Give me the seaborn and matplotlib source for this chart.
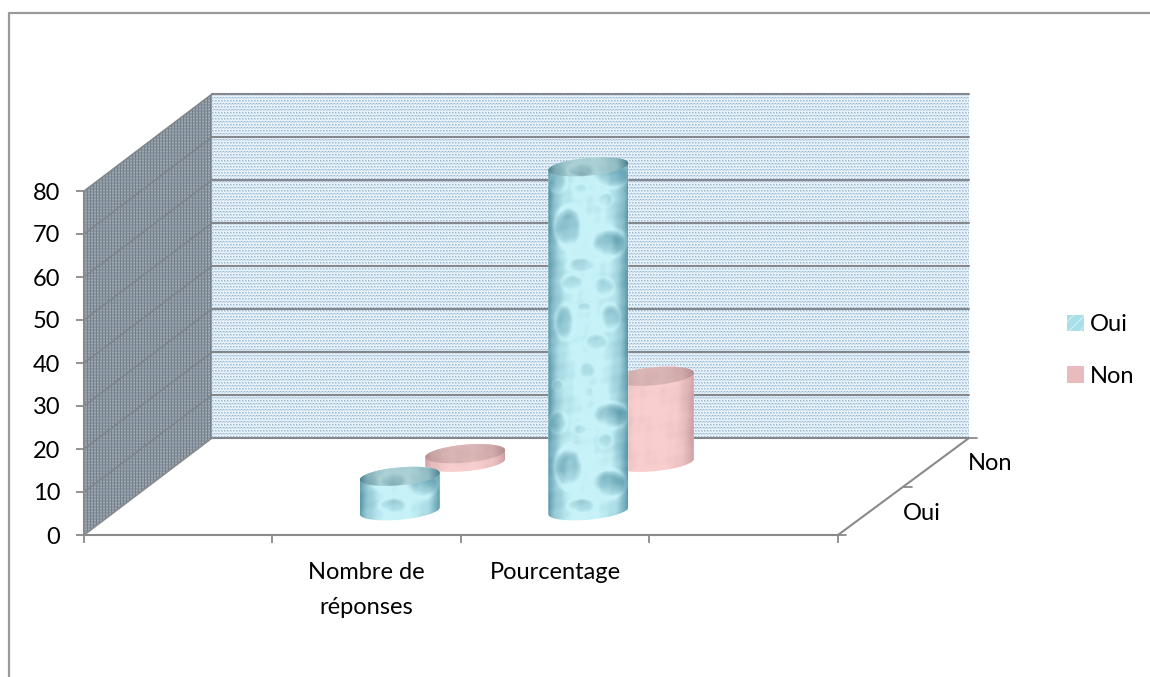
import numpy as np
import pandas as pd
import matplotlib
matplotlib.use("Agg")
import matplotlib.pyplot as plt
from matplotlib.patches import Patch, Polygon, PathPatch
from matplotlib.path import Path
import seaborn as sns

# valeurs
categories = ["Nombre de\nréponses", "Pourcentage"]
oui_values = [8, 80]
non_values = [2, 20]
y_ticks = [0, 10, 20, 30, 40, 50, 60, 70, 80]
depth_labels = ["Oui", "Non"]

W, H = 1150, 677
GRAY = "#8a8a8a"
FS = 17

# geometrie du faux 3D, en pixels
FRONT_L, FRONT_R, FRONT_BOTTOM = 84, 838, 535
PX_PER_UNIT = 4.3
DEPTH_X, DEPTH_Y = 128, -97
X_LIM = (-1.5, 2.5)
Y_LIM = (-6, 86)
TILE_PX = 240

sns.set_theme(style="white")
plt.rcParams["font.family"] = ["Lato", "DejaVu Sans"]


def make_axes(fig, shift_x=0, shift_y=0, y_lim=(0, 80)):
    # axe place en pixels, decale selon la profondeur
    bottom_px = FRONT_BOTTOM + shift_y - y_lim[0] * PX_PER_UNIT
    height = (y_lim[1] - y_lim[0]) * PX_PER_UNIT
    rect = [
        (FRONT_L + shift_x) / W,
        (H - bottom_px) / H,
        (FRONT_R - FRONT_L) / W,
        height / H,
    ]
    ax = fig.add_axes(rect, facecolor="none")
    return ax


def cylinder_texture(h_px, w_px, edge, mid, blobs, mottle, dim=1.0):
    h_px, w_px = max(int(h_px), 2), max(int(w_px), 2)
    yy, xx = np.mgrid[0:h_px, 0:w_px].astype(float)
    u = (xx + 0.5) / w_px * 2 - 1
    light = 1 - np.abs(u) ** 3.5
    light = light + mottle * (
        np.sin(xx / 6.0 + yy / 9.0) * np.cos(yy / 13.0 - xx / 8.0)
        + 0.6 * np.sin(xx / 2.7 - yy / 3.3) * np.sin(yy / 4.1 + xx / 3.9)
    )
    for bx, by, rx, ry, amount in blobs:
        # gouttes repetees verticalement
        for k in range(h_px // TILE_PX + 2):
            dx = (xx - bx * w_px) / rx
            dy = (yy - by - k * TILE_PX - 9) / ry
            r = np.sqrt(dx**2 + dy**2)
            inside = np.clip((1.0 - r) / 0.45, 0, 1)
            light = light - amount * inside * (0.7 + 0.45 * dy)
            light = light + 0.4 * amount * np.exp(-(((r - 1.12) / 0.16) ** 2))
    light = np.clip(light, 0, 1)[..., None]
    rgb = (np.array(edge) * (1 - light) + np.array(mid) * light) * dim / 255.0
    return np.clip(rgb, 0, 1)


def ellipse_points(cx, cy, a, b, s, t0, t1, n=60):
    t = np.linspace(t0, t1, n)
    return np.column_stack(
        [cx + a * np.cos(t), cy + b * np.sin(t) + s * np.cos(t)]
    )


def draw_cylinders(ax, edge, mid, blobs, mottle, cap_dim):
    # les rectangles viennent de seaborn, on les habille en cylindres
    ell_b = 9 / PX_PER_UNIT
    shear = 0.8
    slot_px = (FRONT_R - FRONT_L) / (X_LIM[1] - X_LIM[0])
    for bar in list(ax.patches):
        x0, w, v = bar.get_x(), bar.get_width(), bar.get_height()
        cx, a = x0 + w / 2, w / 2
        pts_low = ellipse_points(cx, 0, a, ell_b, shear, np.pi, 2 * np.pi)
        pts_top = ellipse_points(cx, v, a, ell_b, shear, 0, np.pi)
        body = Path(np.vstack([pts_low, pts_top, pts_low[:1]]), closed=True)
        y_low, y_high = -ell_b - shear - 0.5, v + ell_b + shear + 0.5
        h_px = (y_high - y_low) * PX_PER_UNIT
        tex = cylinder_texture(h_px, w * slot_px, edge, mid, blobs, mottle)
        extent = [x0, x0 + w, y_low, y_high]
        im = ax.imshow(
            tex, extent=extent, origin="lower", aspect="auto",
            interpolation="bilinear", zorder=3,
        )
        im.set_clip_path(PathPatch(body, transform=ax.transData))
        bar.set_clip_path(PathPatch(body, transform=ax.transData))

        cap = Path(ellipse_points(cx, v, a, ell_b, shear, 0, 2 * np.pi), closed=True)
        tex_cap = cylinder_texture(h_px, w * slot_px, edge, mid, blobs, mottle, dim=cap_dim)
        im_cap = ax.imshow(
            tex_cap[::-1], extent=extent, origin="lower", aspect="auto",
            interpolation="bilinear", zorder=4,
        )
        im_cap.set_clip_path(PathPatch(cap, transform=ax.transData))
    ax.set_xlim(*X_LIM)
    ax.set_ylim(*Y_LIM)


fig = plt.figure(figsize=(W / 100, H / 100), dpi=100)

# fond : cadre, murs et sol en pixels
bg = fig.add_axes([0, 0, 1, 1], zorder=0)
bg.set_xlim(0, W)
bg.set_ylim(H, 0)
bg.axis("off")
bg.plot([9, 9, W], [H, 13, 13], color="#9a9a9a", lw=1.6)

wall_l = FRONT_L + DEPTH_X
wall_r = FRONT_R + DEPTH_X + 3
wall_b = FRONT_BOTTOM + DEPTH_Y
wall_t = wall_b - 80 * PX_PER_UNIT

yy, xx = np.mgrid[0:int(wall_b - wall_t), 0:int(wall_r - wall_l)]
dots = ((xx + (yy // 3) % 2) % 3 == 0) & (yy % 3 == 0)
wall_img = np.ones(xx.shape + (3,)) * np.array([232, 241, 248]) / 255
wall_img[(yy % 3 != 2) & (xx % 3 != 2)] = np.array([200, 220, 236]) / 255
wall_img[dots] = np.array([150, 183, 214]) / 255
bg.imshow(wall_img, extent=[wall_l, wall_r, wall_b, wall_t], aspect="auto",
          interpolation="nearest", zorder=1)

side_pts = [
    (FRONT_L, FRONT_BOTTOM),
    (FRONT_L, FRONT_BOTTOM - 80 * PX_PER_UNIT),
    (wall_l, wall_t),
    (wall_l, wall_b),
]
yy, xx = np.mgrid[0:int(wall_b - wall_t + 97), 0:int(wall_l - FRONT_L)]
side_img = np.ones(xx.shape + (3,)) * np.array([138, 150, 162]) / 255
side_img[yy % 3 == 0] = np.array([160, 168, 176]) / 255
side_img[xx % 3 == 0] = np.array([116, 128, 140]) / 255
side = bg.imshow(side_img, extent=[FRONT_L, wall_l, wall_b + 97, wall_t], aspect="auto",
                 interpolation="nearest", zorder=1)
side.set_clip_path(Polygon(side_pts, transform=bg.transData))

for v in y_ticks:
    y_back = wall_b - v * PX_PER_UNIT
    y_front = FRONT_BOTTOM - v * PX_PER_UNIT
    bg.plot([wall_l, wall_r], [y_back, y_back], color="#84888c", lw=1.5, zorder=2)
    if v > 0:
        bg.plot([FRONT_L, wall_l], [y_front, y_back], color="#7f8387", lw=1.0, zorder=2)

floor_x = [FRONT_R, FRONT_R + DEPTH_X + 3]
floor_y = [FRONT_BOTTOM, wall_b]
bg.plot(floor_x, floor_y, color=GRAY, lw=1.5, zorder=2)
bg.plot([FRONT_L, wall_l], [FRONT_BOTTOM, wall_b], color=GRAY, lw=1.2, zorder=2)
for d in [0, 0.5, 1]:
    tx = FRONT_R + d * (DEPTH_X + 3)
    ty = FRONT_BOTTOM + d * DEPTH_Y
    bg.plot([tx, tx + 8], [ty, ty], color=GRAY, lw=1.3, zorder=2)
for label, (lx, ly) in zip(depth_labels, [(903, 513), (968, 464)]):
    bg.text(lx, ly, label, fontsize=FS, color="black", ha="left", va="center")

# axes avant : graduations et libelles
ax = make_axes(fig)
ax.set_zorder(1)
ax.set_xlim(*X_LIM)
ax.set_ylim(0, 80)
ax.set_yticks(y_ticks)
ax.set_xticks(np.arange(X_LIM[0], X_LIM[1] + 0.5))
ax.set_xticklabels([])
ax.set_xticks([0, 1], labels=categories, minor=True)
ax.tick_params(axis="x", which="major", length=6, width=1.3, color=GRAY, bottom=True)
ax.tick_params(axis="x", which="minor", length=0, pad=19.5, labelsize=FS, labelcolor="black")
ax.tick_params(axis="y", length=6, width=1.3, color=GRAY, left=True, pad=11,
               labelsize=FS, labelcolor="black")
for lab in ax.get_xticklabels(minor=True):
    lab.set_linespacing(1.8)
for name, spine in ax.spines.items():
    spine.set_visible(name in ("left", "bottom"))
    spine.set_color(GRAY)
    spine.set_linewidth(1.5)

# une serie par axe, decale dans la profondeur
blobs_oui = [
    (0.26, 48, 13, 19, 0.55), (0.75, 32, 16, 13, 0.55), (0.42, 10, 13, 7, 0.35),
    (0.77, 100, 17, 12, 0.5), (0.40, 86, 7, 5, 0.25), (0.71, 75, 7, 7, 0.22),
    (0.12, 93, 8, 10, 0.25), (0.50, 123, 5, 5, 0.2), (0.48, 145, 8, 8, 0.25),
    (0.12, 130, 5, 5, 0.2), (0.60, 173, 10, 8, 0.3), (0.21, 193, 9, 16, 0.42),
    (0.77, 198, 9, 12, 0.32), (0.45, 208, 7, 4, 0.2), (0.30, 232, 10, 8, 0.3),
    (0.68, 228, 10, 9, 0.28),
]
blobs_non = []

ax_non = make_axes(fig, 0.75 * DEPTH_X + 2.5, 0.75 * DEPTH_Y, Y_LIM)
ax_non.set_zorder(2)
sns.barplot(x=categories, y=non_values, color="#e8bcbe", width=0.424, saturation=1,
            ax=ax_non)
ax_non.set_xlim(*X_LIM)
draw_cylinders(ax_non, (205, 158, 162), (248, 206, 206), blobs_non, 0.09, 0.88)
ax_non.axis("off")

ax_oui = make_axes(fig, 0.25 * DEPTH_X + 1, 0.25 * DEPTH_Y, Y_LIM)
ax_oui.set_zorder(3)
sns.barplot(x=categories, y=oui_values, color="#a8dfe8", width=0.424, saturation=1,
            ax=ax_oui)
ax_oui.set_xlim(*X_LIM)
draw_cylinders(ax_oui, (88, 150, 168), (198, 242, 248), blobs_oui, 0.08, 0.86)
ax_oui.axis("off")

handles = [
    Patch(facecolor="#a8dfe8", edgecolor="#c8eef3", hatch="///", lw=0, label="Oui"),
    Patch(facecolor="#e8bcbe", edgecolor="#e8bcbe", lw=0, label="Non"),
]
fig.legend(
    handles=handles, loc="center left", bbox_to_anchor=(1046 / W, (H - 350.5) / H),
    frameon=False, fontsize=FS, handlelength=0.7, handleheight=0.7,
    handletextpad=0.25, labelspacing=1.3, labelcolor="black",
)

fig.savefig("out.png", dpi=100)
